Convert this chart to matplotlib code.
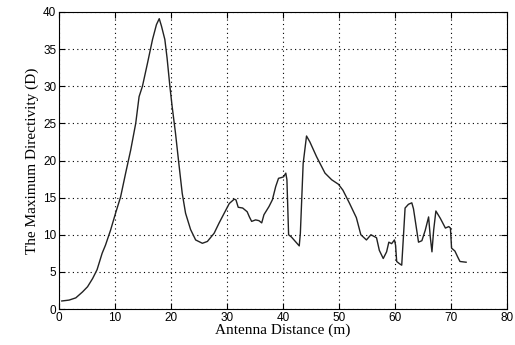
import matplotlib
matplotlib.use('Agg')
import matplotlib.pyplot as plt

# antenna distance (m) and maximum directivity (D)
dist = [0.5, 1.8, 3.0, 4.2, 5.1, 6.0, 6.8, 7.7, 8.3, 9.2, 10.1, 11.0, 11.9, 12.8,
        13.7, 14.3, 14.9, 15.8, 16.7, 17.4, 17.9, 18.3, 18.9, 19.3, 19.8, 20.2,
        20.8, 21.4, 22.0, 22.6, 23.5, 24.4, 25.6, 26.5, 27.7, 28.6, 29.5, 30.4,
        31.3, 31.6, 32.0, 32.8, 33.6, 34.0, 34.4, 35.1, 35.7, 36.2, 36.6, 37.5,
        38.1, 38.7, 39.2, 39.7, 40.1, 40.5, 40.7, 41.0, 41.5, 42.9, 43.1, 43.6,
        44.2, 44.8, 46.0, 47.5, 48.7, 49.9, 50.7, 51.9, 53.1, 53.9, 54.9, 55.7,
        56.7, 57.2, 57.9, 58.5, 58.9, 59.4, 59.9, 60.1, 60.3, 60.8, 61.2, 61.5,
        61.8, 62.4, 63.0, 63.3, 64.2, 64.8, 65.4, 66.0, 66.3, 66.6, 66.9, 67.3,
        68.1, 69.0, 69.6, 69.9, 70.1, 70.7, 71.2, 71.6, 72.7]
directivity = [1.08, 1.2, 1.5, 2.3, 3.0, 4.1, 5.3, 7.5, 8.6, 10.6, 12.9, 15.1, 18.3,
               21.4, 25.0, 28.6, 30.0, 33.1, 36.3, 38.3, 39.1, 38.1, 36.3, 33.8,
               30.0, 27.3, 23.7, 19.6, 15.6, 12.9, 10.7, 9.3, 8.85, 9.1, 10.2, 11.6,
               12.9, 14.2, 14.8, 14.7, 13.7, 13.6, 13.1, 12.4, 11.8, 12.0, 11.9,
               11.6, 12.7, 13.8, 14.7, 16.5, 17.6, 17.7, 17.8, 18.3, 17.4, 10.0,
               9.7, 8.5, 10.2, 19.6, 23.3, 22.5, 20.5, 18.3, 17.4, 16.8, 16.0, 14.2,
               12.3, 10.0, 9.3, 10.0, 9.6, 7.9, 6.8, 7.7, 9.0, 8.8, 9.3, 8.6, 6.4,
               6.1, 5.9, 9.7, 13.6, 14.1, 14.3, 13.5, 9.0, 9.2, 10.6, 12.4, 9.7,
               7.7, 10.6, 13.2, 12.2, 10.9, 11.1, 10.9, 8.2, 7.8, 7.0, 6.4, 6.3]

fig = plt.figure(figsize=(5.15, 3.45), dpi=100)
ax = fig.add_axes([59 / 515, 1 - 309 / 345, 448 / 515, 297 / 345])

ax.plot(dist, directivity, color='#222222', linewidth=1.0)

ax.set_xlim(0, 80)
ax.set_ylim(0, 40)
ax.set_xticks(range(0, 81, 10))
ax.set_yticks(range(0, 41, 5))
ax.grid(True, color='black', linestyle=(0, (1, 3)), linewidth=0.8)
ax.tick_params(direction='in', top=True, right=True, labelsize=8.5, length=4, pad=2)
for lab in ax.get_xticklabels() + ax.get_yticklabels():
    lab.set_family('Liberation Sans')
for s in ax.spines.values():
    s.set_linewidth(0.8)

ax.set_xlabel('Antenna Distance (m)', family='Liberation Serif', fontsize=11, labelpad=0)
ax.set_ylabel('The Maximum Directivity (D)', family='Liberation Serif', fontsize=11, labelpad=3)

fig.savefig('out.png', dpi=100)
plt.close(fig)
